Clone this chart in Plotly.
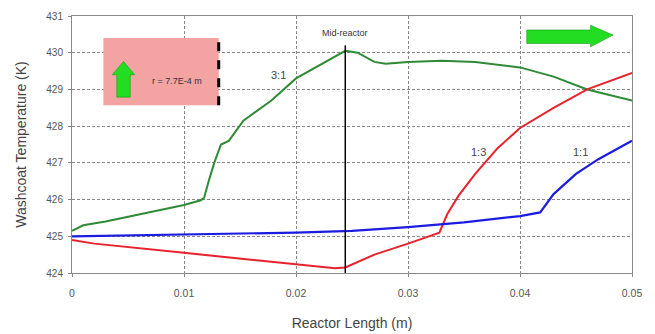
import plotly.graph_objects as go

# 3:1 ratio (green)
x_31 = [0, 0.001, 0.003, 0.006, 0.008, 0.010, 0.0115, 0.0118, 0.0122, 0.0127, 0.0133, 0.0140,
        0.0153, 0.0178, 0.020, 0.022, 0.0235, 0.0244, 0.0255, 0.027, 0.028, 0.030, 0.033,
        0.036, 0.040, 0.043, 0.046, 0.050]
y_31 = [425.15, 425.3, 425.4, 425.6, 425.72, 425.85, 425.98, 426.05, 426.5, 427.0, 427.5, 427.6,
        428.15, 428.7, 429.3, 429.65, 429.9, 430.05, 430.0, 429.75, 429.7, 429.75, 429.78,
        429.75, 429.6, 429.35, 429.0, 428.7]

# 1:3 ratio (red)
x_13 = [0, 0.002, 0.010, 0.020, 0.0235, 0.0244, 0.027, 0.030, 0.032, 0.0328, 0.0335, 0.0345,
        0.036, 0.038, 0.040, 0.043, 0.046, 0.050]
y_13 = [424.9, 424.8, 424.55, 424.25, 424.13, 424.15, 424.5, 424.8, 425.0, 425.1, 425.6, 426.1,
        426.7, 427.4, 427.95, 428.5, 429.0, 429.45]

# 1:1 ratio (blue)
x_11 = [0, 0.005, 0.010, 0.015, 0.020, 0.025, 0.030, 0.035, 0.040, 0.0418, 0.043, 0.045,
        0.047, 0.050]
y_11 = [425.0, 425.02, 425.04, 425.07, 425.1, 425.15, 425.25, 425.38, 425.55, 425.65, 426.15,
        426.7, 427.1, 427.6]

x_ticks = [0, 0.01, 0.02, 0.03, 0.04, 0.05]
x_tick_labels = ["0", "0.01", "0.02", "0.03", "0.04", "0.05"]
y_ticks = [424, 425, 426, 427, 428, 429, 430, 431]

mid_x = 0.0244
series_labels = ["3:1", "1:3", "1:1"]
label_pos_x = [0.0184, 0.0363, 0.0454]
label_pos_y = [429.4, 427.3, 427.3]

font = "Liberation Sans, Arial, sans-serif"

fig = go.Figure()
fig.add_trace(go.Scatter(x=x_31, y=y_31, mode="lines", line=dict(color="#2f8a35", width=2), showlegend=False))
fig.add_trace(go.Scatter(x=x_13, y=y_13, mode="lines", line=dict(color="#e8222c", width=2), showlegend=False))
fig.add_trace(go.Scatter(x=x_11, y=y_11, mode="lines", line=dict(color="#1c1ce0", width=2.2), showlegend=False))

# mid-reactor line
fig.add_shape(type="line", x0=mid_x, x1=mid_x, y0=424, y1=430.2, xref="x", yref="y",
              line=dict(color="black", width=1.5))
fig.add_annotation(x=mid_x, y=430.55, text="Mid-reactor", showarrow=False,
                   font=dict(family=font, size=9, color="#333"))

for t, lx, ly in zip(series_labels, label_pos_x, label_pos_y):
    fig.add_annotation(x=lx, y=ly, text=t, showarrow=False, font=dict(family=font, size=11, color="#444"))

# pink box
fig.add_shape(type="rect", x0=0.0028, x1=0.0131, y0=428.57, y1=430.4, xref="x", yref="y",
              fillcolor="#f4a3a3", line=dict(width=0), layer="above")
fig.add_shape(type="line", x0=0.0131, x1=0.0131, y0=428.57, y1=430.4, xref="x", yref="y",
              line=dict(color="black", width=3, dash="dash"))
# green up arrow
ax0, ax1, am = 0.0036, 0.0056, 0.0046
fig.add_shape(type="path", xref="x", yref="y",
              path=f"M {0.0040},428.79 L {0.0052},428.79 L {0.0052},429.4 L {ax1},429.4 L {am},429.76 L {ax0},429.4 L {0.0040},429.4 Z",
              fillcolor="#22dd22", line=dict(color="#1a9a1a", width=0.6))
fig.add_annotation(x=0.0094, y=429.22, text="r = 7.7E-4 m", showarrow=False,
                   font=dict(family=font, size=9, color="#333"))

# green right arrow
fig.add_shape(type="path", xref="x", yref="y",
              path="M 0.0406,430.62 L 0.0463,430.62 L 0.0463,430.75 L 0.0483,430.48 L 0.0463,430.16 L 0.0463,430.25 L 0.0406,430.25 Z",
              fillcolor="#22dd22", line=dict(color="#1a9a1a", width=0.6))

fig.update_layout(
    width=655, height=334,
    margin=dict(l=72, r=23, t=16, b=61, autoexpand=False),
    plot_bgcolor="white", paper_bgcolor="white",
    font=dict(family=font, color="#444"),
)
fig.update_xaxes(range=[0, 0.05], tickvals=x_ticks, ticktext=x_tick_labels,
                 showgrid=True, gridcolor="#888", griddash="3px,2px", gridwidth=1,
                 showline=True, linecolor="#888", linewidth=1, mirror=True,
                 ticks="outside", ticklen=3, tickcolor="#888", ticklabelstandoff=7,
                 tickfont=dict(size=10.5, color="#555"), automargin=False,
                 title=dict(text="Reactor Length (m)", font=dict(size=14, color="#444"), standoff=20),
                 zeroline=False)
fig.update_yaxes(range=[424, 431], tickvals=y_ticks,
                 showgrid=True, gridcolor="#888", griddash="3px,2px", gridwidth=1,
                 showline=True, linecolor="#888", linewidth=1, mirror=True,
                 ticks="outside", ticklen=3, tickcolor="#888", ticklabelstandoff=3,
                 tickfont=dict(size=10, color="#555"), automargin=False,
                 title=dict(text="Washcoat Temperature (K)", font=dict(size=14, color="#444"), standoff=16),
                 zeroline=False)

fig.write_html("out.html", post_script="document.body.style.margin='0';",
               config={"displayModeBar": False})
